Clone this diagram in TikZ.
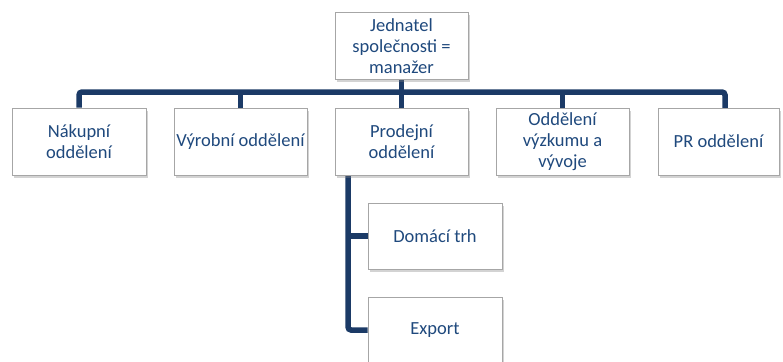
\documentclass[tikz,border=0pt]{standalone}
\usepackage{fontspec}
\setmainfont{Carlito}
\usetikzlibrary{shadows,backgrounds}
\definecolor{linec}{HTML}{1B3A66}
\definecolor{textc}{HTML}{1F497D}
\definecolor{boxc}{HTML}{A6A6A6}
\tikzset{
  orgbox/.style={draw=boxc, line width=0.9pt, fill=white, text=textc,
    minimum width=#1, minimum height=67pt, inner sep=1pt, align=center,
    font=\fontsize{18.5}{21}\selectfont,
    drop shadow={shadow xshift=1.5pt, shadow yshift=-2.5pt, opacity=0.35, fill=gray}},
  orgbox/.default=133pt,
  conn/.style={draw=linec, line width=5.5pt, rounded corners=3pt}
}
\begin{document}
\begin{tikzpicture}[x=1pt,y=-1pt]
\useasboundingbox (0,0) rectangle (783,361);
\coordinate (prdrop) at (725,108);

\node[orgbox] (top) at (401.5,46) {Jednatel\\společnosti =\\manažer};
\node[orgbox=134pt] (nak) at (79,141.5) {Nákupní\\oddělení};
\node[orgbox] (vyr) at (240.5,141.5) {Výrobní oddělení};
\node[orgbox] (pro) at (401.5,141.5) {Prodejní\\oddělení};
\node[orgbox] (vyz) at (562.5,141.5) {Oddělení\\výzkumu a\\vývoje};
\node[orgbox=121pt] (pr) at (718.5,141.5) {PR oddělení};
\node[orgbox=134pt, minimum height=66pt] (dom) at (435,236) {Domácí trh};
\node[orgbox=134pt, minimum height=66pt] (exp) at (435,330) {Export};

\begin{scope}[on background layer]
\draw[conn] (nak.north) |- (top.south |- 0,92) -| (prdrop);
\draw[conn] (top.south) -- (pro.north);
\draw[conn] (vyr.north) -- (vyr.north |- 0,92);
\draw[conn] (vyz.north) -- (vyz.north |- 0,92);
\draw[conn] (pro.south -| 348,0) |- (exp.west);
\draw[conn] (dom.west) -- (dom.west -| 348,0);
\end{scope}
\end{tikzpicture}
\end{document}
